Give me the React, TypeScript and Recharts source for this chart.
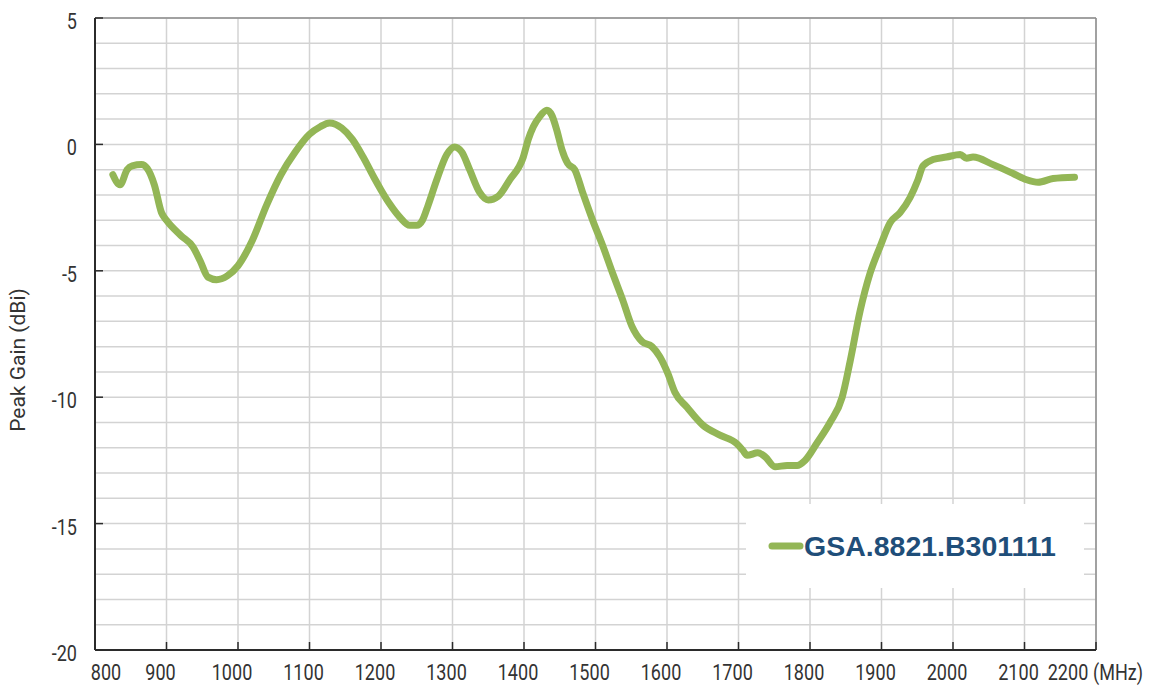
import React from 'react';
import {
  LineChart,
  Line,
  XAxis,
  YAxis,
  CartesianGrid,
  Legend,
  ReferenceLine
} from 'recharts';

const freqMHz = [
  825, 835, 845, 852, 865, 873, 883, 893, 900, 920, 937, 947, 958, 970, 985,
  1000, 1020, 1040, 1060, 1080, 1100, 1115, 1128, 1145, 1160, 1175, 1190, 1200,
  1212, 1227, 1240, 1250, 1258, 1266, 1278, 1292, 1303, 1313, 1324, 1338, 1350,
  1364, 1380, 1399, 1406, 1413, 1422, 1432, 1439, 1446, 1453, 1461, 1471, 1482,
  1496, 1510, 1524, 1538, 1551, 1565, 1579, 1590, 1601, 1611, 1628, 1650, 1674,
  1698, 1706, 1712, 1727, 1737, 1751, 1768, 1782, 1793, 1810, 1828, 1845, 1856,
  1870, 1884, 1898, 1912, 1926, 1940, 1951, 1958, 1972, 1991, 2010, 2019, 2028,
  2056, 2084, 2103, 2119, 2140, 2170
];

const peakGain = [
  -1.2, -1.6, -1.0, -0.85, -0.8, -0.95, -1.6, -2.7, -3.0, -3.6, -4.05, -4.6, -5.25, -5.35, -5.2,
  -4.8, -3.8, -2.4, -1.2, -0.3, 0.4, 0.7, 0.85, 0.65, 0.2, -0.5, -1.3, -1.8,
  -2.35, -2.9, -3.2, -3.2, -3.0, -2.4, -1.4, -0.4, -0.1, -0.3, -1.0, -1.9, -2.2,
  -2.05, -1.4, -0.5, 0.2, 0.7, 1.1, 1.35, 1.15, 0.55, -0.2, -0.75, -1.0, -1.9,
  -3.0, -4.0, -5.1, -6.15, -7.2, -7.8, -8.0, -8.4, -9.05, -9.8, -10.4, -11.1, -11.5,
  -11.85, -12.1, -12.3, -12.2, -12.35, -12.75, -12.7, -12.7, -12.5, -11.8, -11.0, -10.0, -8.6,
  -6.6, -5.1, -4.05, -3.1, -2.7, -2.1, -1.4, -0.85, -0.6, -0.5, -0.4, -0.55, -0.5,
  -0.8, -1.15, -1.4, -1.5, -1.35, -1.3
];

const xTicks = [800, 900, 1000, 1100, 1200, 1300, 1400, 1500, 1600, 1700, 1800, 1900, 2000, 2100, 2200];
const yTicks = [
  -20, -19, -18, -17, -16, -15, -14, -13, -12, -11, -10, -9, -8, -7, -6, -5,
  -4, -3, -2, -1, 0, 1, 2, 3, 4, 5
];

const seriesName = 'GSA.8821.B301111';
const yLabel = 'Peak Gain (dBi)';
const xUnit = '(MHz)';

const chartData = freqMHz.map((f, i) => ({ freq: f, gain: peakGain[i] }));

const GREEN = '#93b656';
const AXIS = '#2b2b2b';
const TEXT = '#333333';
const TICK_FONT = '"Roboto", sans-serif';

// the datasheet uses a condensed face, so squeeze Roboto horizontally
const Condensed = ({ x, y, anchor, children }: any) => (
  <text
    transform={`translate(${x} ${y}) scale(0.82 1)`}
    textAnchor={anchor}
    fill={TEXT}
    fontSize={22}
    fontFamily={TICK_FONT}
  >
    {children}
  </text>
);

const XTick = (props: any) => {
  const { x, y, payload } = props;
  const v = payload.value;
  const dx = v === 800 ? 11 : v === 2200 ? -28 : -6;
  return (
    <g>
      <line x1={x} y1={y} x2={x} y2={y - 8} stroke={AXIS} strokeWidth={1.5} />
      <Condensed x={x + dx} y={y + 30} anchor="middle">{v}</Condensed>
    </g>
  );
};

const YTick = (props: any) => {
  const { x, y, payload } = props;
  const v = payload.value;
  if (v % 5 !== 0) return <g />;
  return (
    <g>
      <line x1={x} y1={y} x2={x + 8} y2={y} stroke={AXIS} strokeWidth={1.5} />
      <Condensed x={x - 18} y={y + 11} anchor="end">{v}</Condensed>
    </g>
  );
};

const renderLegend = () => (
  <div
    style={{
      width: 338,
      height: 84,
      background: '#fff',
      display: 'flex',
      alignItems: 'center',
      boxSizing: 'border-box',
      paddingLeft: 22
    }}
  >
    <svg width={36} height={10} style={{ flex: 'none' }}>
      <line x1={4} y1={5} x2={32} y2={5} stroke={GREEN} strokeWidth={7} strokeLinecap="round" />
    </svg>
    <span
      style={{
        fontFamily: '"Liberation Sans", Arial, sans-serif',
        fontWeight: 'bold',
        fontSize: 28.5,
        color: '#1f4e79',
        marginLeft: 0,
        lineHeight: 1
      }}
    >
      {seriesName}
    </span>
  </div>
);

export default function App() {
  return (
    <div style={{ position: 'absolute', left: 0, top: 0, width: 1168, height: 687, background: '#fff' }}>
      <LineChart
        width={1168}
        height={687}
        data={chartData}
        margin={{ top: 18, right: 72, bottom: 0, left: 0 }}
      >
        <CartesianGrid stroke="#d3d3d3" strokeWidth={1.5} />
        <XAxis
          dataKey="freq"
          type="number"
          domain={[800, 2200]}
          ticks={xTicks}
          interval={0}
          height={37}
          tickSize={0}
          tickMargin={0}
          tick={<XTick />}
          stroke={AXIS}
          strokeWidth={2}
          label={(p: any) => {
            const vb = p.viewBox;
            return <Condensed x={vb.x + vb.width - 3} y={vb.y + 30} anchor="start">{xUnit}</Condensed>;
          }}
        />
        <YAxis
          type="number"
          domain={[-20, 5]}
          ticks={yTicks}
          interval={0}
          width={95}
          tickSize={0}
          tickMargin={0}
          tick={<YTick />}
          stroke={AXIS}
          strokeWidth={2}
          label={(p: any) => {
            const cy = p.viewBox.y + p.viewBox.height / 2 + 26;
            return (
              <text
                x={18}
                y={cy}
                transform={`rotate(-90 18 ${cy})`}
                textAnchor="middle"
                dominantBaseline="central"
                fill={TEXT}
                fontSize={21}
                fontFamily='"Roboto", sans-serif'
              >
                {yLabel}
              </text>
            );
          }}
        />
        <ReferenceLine y={5} stroke="#8c8c8c" strokeWidth={1.5} />
        <ReferenceLine x={2200} stroke="#8c8c8c" strokeWidth={1.5} />
        <Legend
          layout="horizontal"
          verticalAlign="middle"
          align="center"
          wrapperStyle={{ left: 746, top: 504, width: 338, height: 84 }}
          content={renderLegend}
        />
        <Line
          type="monotone"
          dataKey="gain"
          name={seriesName}
          stroke={GREEN}
          strokeWidth={7}
          strokeLinecap="round"
          strokeLinejoin="round"
          dot={false}
          activeDot={false}
          isAnimationActive={false}
        />
      </LineChart>
    </div>
  );
}
